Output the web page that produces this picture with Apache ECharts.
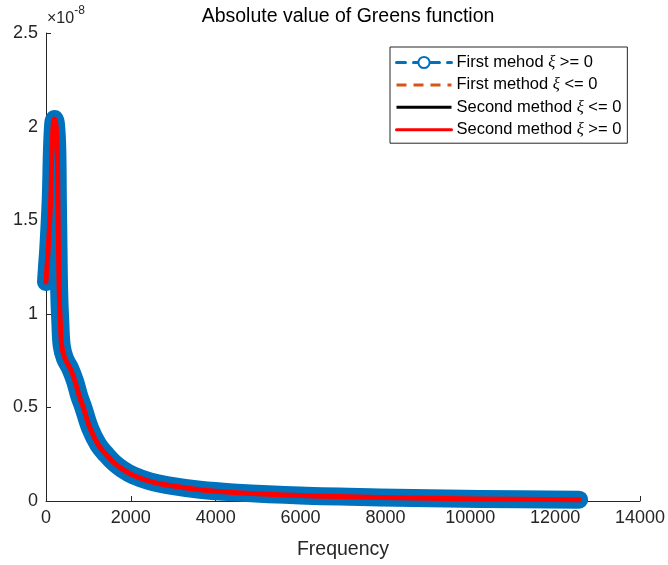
<!DOCTYPE html>
<html>
<head>
<meta charset="utf-8">
<script src="https://cdn.jsdelivr.net/npm/echarts@6/dist/echarts.min.js"></script>
<style>
  html, body { margin: 0; padding: 0; background: #fff; }
  #chart { width: 668px; height: 565px; }
</style>
</head>
<body>
<div id="chart"></div>
<script>
// Frequency samples and |G| magnitude of the Green's function
const frequency = [0, 20, 54, 111, 141, 172, 200, 236, 266, 280, 295, 304, 318, 335, 370, 448, 566, 684, 785, 879, 1037, 1233, 1431, 1600, 1800, 2050, 2451, 2852, 3630, 4408, 5987, 7872, 10229, 12566];
const greenAbs = [1.17e-8, 1.24e-8, 1.35e-8, 1.61e-8, 1.88e-8, 2.02e-8, 2.04e-8, 2.01e-8, 1.88e-8, 1.61e-8, 1.35e-8, 1.19e-8, 1.06e-8, 0.97e-8, 0.83e-8, 0.76e-8, 0.71e-8, 0.64e-8, 0.56e-8, 0.50e-8, 0.39e-8, 0.30e-8, 0.245e-8, 0.205e-8, 0.170e-8, 0.138e-8, 0.105e-8, 0.085e-8, 0.060e-8, 0.046e-8, 0.029e-8, 0.019e-8, 0.011e-8, 0.007e-8];

const xTicks = { min: 0, max: 14000, step: 2000 };
const yTicks = { min: 0, max: 2.5e-8, step: 0.5e-8 };

const seriesNames = ['First mehod ξ >= 0', 'First method ξ <= 0', 'Second method ξ <= 0', 'Second method ξ >= 0'];

const pairs = frequency.map((f, i) => [f, greenAbs[i]]);

const FONT = '"Liberation Sans", Arial, Helvetica, sans-serif';
const INK = '#262626';
const SMOOTH = 0.35;

const chart = echarts.init(document.getElementById('chart'), null, { renderer: 'canvas' });

function legendLabel(name) {
  const parts = name.split('ξ');
  return '{t|' + parts[0] + '}{x|ξ}{t|' + parts[1] + '}';
}

chart.setOption({
  animation: false,
  backgroundColor: '#fff',
  title: {
    text: 'Absolute value of Greens function',
    left: 343, textAlign: 'center', top: 2,
    textStyle: { fontFamily: FONT, fontSize: 19.5, fontWeight: 'normal', color: '#000' }
  },
  grid: { left: 46, right: 28, top: 33, bottom: 62, containLabel: false },
  xAxis: {
    type: 'value', min: xTicks.min, max: xTicks.max, interval: xTicks.step,
    name: 'Frequency', nameLocation: 'middle', nameGap: 39,
    nameTextStyle: { fontFamily: FONT, fontSize: 19.5, color: INK },
    axisLine: { show: true, lineStyle: { color: INK, width: 1 } },
    axisTick: { show: true, inside: true, length: 5, lineStyle: { color: INK } },
    axisLabel: { fontFamily: FONT, fontSize: 18, color: INK, margin: 8, formatter: v => String(v) },
    splitLine: { show: false }
  },
  yAxis: {
    type: 'value', min: yTicks.min, max: yTicks.max, interval: yTicks.step,
    axisLine: { show: true, lineStyle: { color: INK, width: 1 } },
    axisTick: { show: true, inside: true, length: 5, lineStyle: { color: INK } },
    axisLabel: {
      fontFamily: FONT, fontSize: 18, color: INK, margin: 8,
      formatter: v => String(Math.round(v * 1e9) / 10)
    },
    splitLine: { show: false }
  },
  legend: {
    left: 390, top: 47, orient: 'vertical',
    itemWidth: 55, itemHeight: 14, itemGap: 5.4,
    padding: [7, 6, 5, 5],
    backgroundColor: '#fff', borderColor: INK, borderWidth: 1, borderRadius: 0,
    selectedMode: false,
    formatter: legendLabel,
    textStyle: {
      color: '#000',
      rich: {
        t: { fontFamily: FONT, fontSize: 16.5, color: '#000' },
        x: { fontFamily: '"Liberation Serif", "DejaVu Serif", serif', fontStyle: 'italic', fontSize: 16.5, color: '#000' }
      }
    },
    data: [
      { name: seriesNames[0], itemStyle: { color: '#0072BD' }, lineStyle: { color: '#0072BD', width: 3, type: [9, 8] } },
      { name: seriesNames[1], itemStyle: { opacity: 0 }, lineStyle: { color: '#D95319', width: 3, type: [10, 7] } },
      { name: seriesNames[2], itemStyle: { opacity: 0 }, lineStyle: { color: '#000', width: 3, type: 'solid' } },
      { name: seriesNames[3], itemStyle: { opacity: 0 }, lineStyle: { color: '#FF0000', width: 3, type: 'solid' } }
    ]
  },
  graphic: [{
    type: 'text', left: 47, top: 5,
    style: {
      text: '{m|×10}{s|-8}',
      rich: {
        m: { fontFamily: FONT, fontSize: 16, fill: INK, verticalAlign: 'bottom', lineHeight: 22 },
        s: { fontFamily: FONT, fontSize: 12, fill: INK, verticalAlign: 'top', lineHeight: 22, padding: [0, 0, 8, 0] }
      }
    }
  }],
  series: [
    {
      name: seriesNames[0], type: 'line', data: pairs, clip: false, z: 2,
      smooth: SMOOTH,
      symbol: 'emptyCircle', showSymbol: false, symbolSize: 10,
      itemStyle: { color: '#0072BD' },
      lineStyle: { color: '#0072BD', width: 18, cap: 'round', join: 'round' }
    },
    {
      name: seriesNames[1], type: 'line', data: pairs, clip: false, z: 3,
      smooth: SMOOTH, symbol: 'none',
      itemStyle: { color: '#D95319' },
      lineStyle: { color: '#D95319', width: 2, type: 'dashed' }
    },
    {
      name: seriesNames[2], type: 'line', data: pairs, clip: false, z: 4,
      smooth: SMOOTH, symbol: 'none',
      itemStyle: { color: '#000' },
      lineStyle: { color: '#000', width: 3 }
    },
    {
      name: seriesNames[3], type: 'line', data: pairs, clip: false, z: 5,
      smooth: SMOOTH, symbol: 'none',
      itemStyle: { color: '#FF0000' },
      lineStyle: { color: '#FF0000', width: 5, cap: 'round', join: 'round' }
    }
  ]
});
</script>
</body>
</html>
